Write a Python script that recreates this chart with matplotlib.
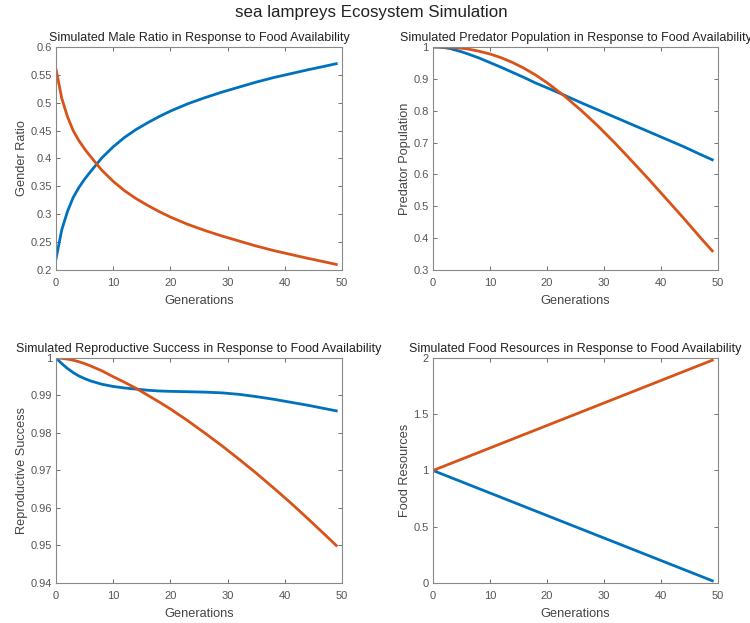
import matplotlib

matplotlib.use("Agg")
import matplotlib.pyplot as plt
from matplotlib.ticker import FormatStrFormatter

BLUE = "#0072BD"
ORANGE = "#D95319"

generations = [0, 1, 2, 3, 4, 5, 6, 8, 10, 12, 14, 16, 18, 20, 23, 26, 29, 32, 35, 38, 41, 44, 47, 49]

male_ratio_blue = [0.220, 0.272, 0.305, 0.330, 0.348, 0.363, 0.376, 0.401, 0.421, 0.438, 0.452, 0.464,
                   0.475, 0.485, 0.498, 0.509, 0.519, 0.528, 0.537, 0.545, 0.552, 0.559, 0.5655, 0.570]
male_ratio_orange = [0.560, 0.508, 0.475, 0.450, 0.432, 0.417, 0.404, 0.379, 0.359, 0.342, 0.328, 0.316,
                     0.305, 0.295, 0.282, 0.271, 0.261, 0.252, 0.243, 0.235, 0.228, 0.221, 0.2145, 0.210]

predator_blue = [1.000, 0.9995, 0.998, 0.995, 0.990, 0.985, 0.979, 0.966, 0.951, 0.936, 0.920, 0.904,
                 0.887, 0.872, 0.849, 0.825, 0.802, 0.779, 0.756, 0.733, 0.710, 0.687, 0.662, 0.646]
predator_orange = [1.000, 1.000, 0.9995, 0.999, 0.998, 0.996, 0.994, 0.987, 0.978, 0.966, 0.951, 0.933,
                   0.912, 0.888, 0.847, 0.801, 0.751, 0.697, 0.640, 0.582, 0.522, 0.462, 0.400, 0.360]

repro_blue = [1.0000, 0.9985, 0.9972, 0.9961, 0.9952, 0.9945, 0.9939, 0.9930, 0.9924, 0.9920, 0.9917, 0.9914,
              0.9912, 0.9911, 0.9910, 0.9909, 0.9907, 0.9903, 0.9897, 0.9890, 0.9882, 0.9874, 0.9865, 0.9859]
repro_orange = [1.0000, 0.9999, 0.9997, 0.9994, 0.9990, 0.9985, 0.9979, 0.9966, 0.9950, 0.9935, 0.9919, 0.9901,
                0.9883, 0.9864, 0.9833, 0.9800, 0.9766, 0.9730, 0.9693, 0.9654, 0.9614, 0.9572, 0.9529, 0.9500]

food_blue = [1.00, 0.98, 0.96, 0.94, 0.92, 0.90, 0.88, 0.84, 0.80, 0.76, 0.72, 0.68,
             0.64, 0.60, 0.54, 0.48, 0.42, 0.36, 0.30, 0.24, 0.18, 0.12, 0.06, 0.02]
food_orange = [1.00, 1.02, 1.04, 1.06, 1.08, 1.10, 1.12, 1.16, 1.20, 1.24, 1.28, 1.32,
               1.36, 1.40, 1.46, 1.52, 1.58, 1.64, 1.70, 1.76, 1.82, 1.88, 1.94, 1.98]

x_ticks = [0, 10, 20, 30, 40, 50]
male_ticks = [0.2, 0.25, 0.3, 0.35, 0.4, 0.45, 0.5, 0.55, 0.6]
predator_ticks = [0.3, 0.4, 0.5, 0.6, 0.7, 0.8, 0.9, 1.0]
repro_ticks = [0.94, 0.95, 0.96, 0.97, 0.98, 0.99, 1.0]
food_ticks = [0, 0.5, 1, 1.5, 2]

plt.rcParams["font.family"] = ["Liberation Sans", "DejaVu Sans"]


def style_axes(ax, title: str, ylabel: str, yticks: list) -> None:
    """
    MATLAB-like look: boxed axes, inward ticks on all sides, grey text.
    """
    ax.set_title(title, fontsize=9, color="#222222", pad=4)
    ax.set_xlabel("Generations", fontsize=9.2, color="#444444", labelpad=5)
    ax.set_ylabel(ylabel, fontsize=9.2, color="#444444", labelpad=2)
    ax.set_xlim(0, 50)
    ax.set_ylim(yticks[0], yticks[-1])
    ax.set_xticks(x_ticks)
    ax.set_yticks(yticks)
    ax.yaxis.set_major_formatter(FormatStrFormatter("%g"))
    ax.tick_params(direction="in", top=True, right=True, length=3, width=0.6,
                   labelsize=8, colors="#555555")
    ax.tick_params(axis="x", pad=5.5)
    ax.tick_params(axis="y", pad=3)
    for spine in ax.spines.values():
        spine.set_color("#888888")
        spine.set_linewidth(0.8)


def draw_panel(ax, blue: list, orange: list, title: str, ylabel: str, yticks: list) -> None:
    ax.plot(generations, blue, color=BLUE, linewidth=2)
    ax.plot(generations, orange, color=ORANGE, linewidth=2)
    style_axes(ax, title, ylabel, yticks)


def main() -> None:
    fig = plt.figure(figsize=(7.5, 6.23), dpi=100)

    # axes placed to match the reference pixel layout
    ax1 = fig.add_axes([0.0747, 0.5666, 0.3813, 0.3580])
    ax2 = fig.add_axes([0.5773, 0.5666, 0.3800, 0.3580])
    ax3 = fig.add_axes([0.0747, 0.0642, 0.3813, 0.3612])
    ax4 = fig.add_axes([0.5773, 0.0642, 0.3800, 0.3612])

    draw_panel(ax1, male_ratio_blue, male_ratio_orange,
               "Simulated Male Ratio in Response to Food Availability", "Gender Ratio", male_ticks)
    draw_panel(ax2, predator_blue, predator_orange,
               "Simulated Predator Population in Response to Food Availability", "Predator Population",
               predator_ticks)
    draw_panel(ax3, repro_blue, repro_orange,
               "Simulated Reproductive Success in Response to Food Availability", "Reproductive Success",
               repro_ticks)
    draw_panel(ax4, food_blue, food_orange,
               "Simulated Food Resources in Response to Food Availability", "Food Resources", food_ticks)

    fig.text(0.495, 0.980, "sea lampreys Ecosystem Simulation", ha="center", va="center",
             fontsize=12.2, color="#222222")

    fig.savefig("out.png", dpi=100, facecolor="white")


if __name__ == "__main__":
    main()
